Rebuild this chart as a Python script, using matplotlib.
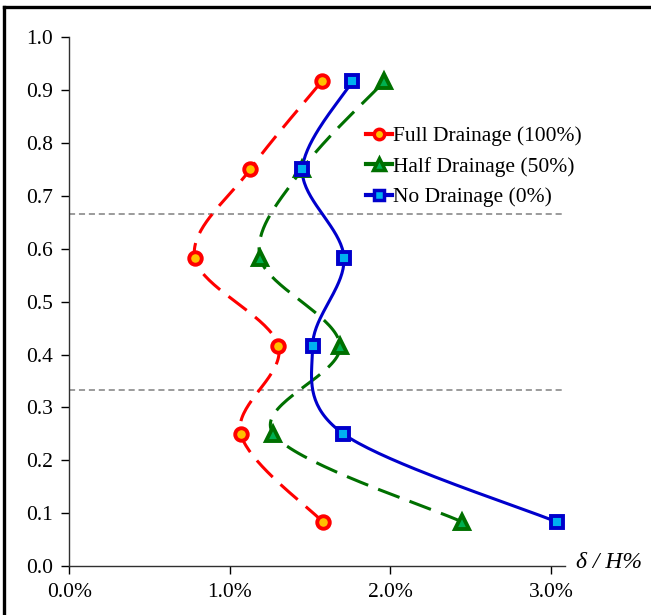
#Settlement profile chart for the three drainage cases

import numpy as np
import matplotlib
matplotlib.use("Agg")
import matplotlib.pyplot as plt
from matplotlib.lines import Line2D

#data (x in %, y = depth ratio)
depth = [0.0833, 0.25, 0.4167, 0.5833, 0.75, 0.9167]
full_drainage = [1.579, 1.068, 1.302, 0.781, 1.126, 1.573]
half_drainage = [2.447, 1.271, 1.687, 1.188, 1.450, 1.963]
no_drainage = [3.037, 1.707, 1.516, 1.711, 1.452, 1.763]
x_ticks = [0.0, 1.0, 2.0, 3.0]
y_ticks = [0.0, 0.1, 0.2, 0.3, 0.4, 0.5, 0.6, 0.7, 0.8, 0.9, 1.0]
guide_lines = [1 / 3, 2 / 3]


#smooth line like the spreadsheet one (bezier through every point)
def smooth(xs, ys, n=40):
    p = np.column_stack([xs, ys]).astype(float)
    p = np.vstack([p[0], p, p[-1]])
    out = []
    t = np.linspace(0, 1, n)[:, None]
    for i in range(1, len(p) - 2):
        p0, p3 = p[i], p[i + 1]
        c1 = p0 + (p[i + 1] - p[i - 1]) / 6
        c2 = p3 - (p[i + 2] - p[i]) / 6
        seg = ((1 - t) ** 3) * p0 + 3 * ((1 - t) ** 2) * t * c1 + 3 * (1 - t) * t ** 2 * c2 + t ** 3 * p3
        out.append(seg)
    seg = np.vstack(out)
    return seg[:, 0], seg[:, 1]


plt.rcParams['font.family'] = ['Liberation Serif', 'DejaVu Serif']

fig = plt.figure(figsize=(6.51, 6.15), dpi=100)
ax = fig.add_axes([69.3 / 651, 49 / 615, 496 / 651, 528.7 / 615])

series = [
    ("Full Drainage (100%)", full_drainage, "#FF0000", "#FFC000", "o", (7.5, 3.5), 9),
    ("Half Drainage (50%)", half_drainage, "#007000", "#00B050", "^", (7.5, 3.5), 9.5),
    ("No Drainage (0%)", no_drainage, "#0000CC", "#00B0F0", "s", None, 9),
]

for y in guide_lines:
    ax.axhline(y, color="#808080", lw=1.1, ls=(0, (4, 2.5)), zorder=1)

handles = []
for label, xs, edge, face, mk, dash, ms in series:
    sx, sy = smooth(xs, depth)
    line, = ax.plot(sx, sy, color=edge, lw=2.2, zorder=2)
    if dash is not None:
        line.set_dashes(dash)
    ax.plot(xs, depth, ls="none", marker=mk, ms=ms, mfc=face, mec=edge, mew=2.8, zorder=3)
    h = Line2D([0], [0], color=edge, lw=3, marker=mk, ms=ms - 1.5, mfc=face, mec=edge, mew=2.5)
    handles.append((h, label))

ax.set_xlim(0, 3.09)
ax.set_ylim(0, 1.0)
ax.set_xticks(x_ticks)
ax.set_xticklabels([f"{v:.1f}%" for v in x_ticks])
ax.set_yticks(y_ticks)
ax.set_yticklabels([f"{v:.1f}" for v in y_ticks])
ax.tick_params(direction="out", length=6, width=1, labelsize=15.5, pad=6)
ax.spines["top"].set_visible(False)
ax.spines["right"].set_visible(False)
for s in ["left", "bottom"]:
    ax.spines[s].set_linewidth(1)
    ax.spines[s].set_color("#303030")

ax.text(1.022, -0.004, "δ / H%", transform=ax.transAxes, fontsize=17,
        style="italic", ha="left", va="baseline")

ax.legend([h for h, l in handles], [l for h, l in handles], loc="upper left",
          bbox_to_anchor=(0.581, 0.848), frameon=False, fontsize=15.5,
          handlelength=1.2, handletextpad=0.05, labelspacing=0.48, borderaxespad=0)

#black frame on top and left like the cropped original
fig.add_artist(Line2D([4 / 651, 4 / 651], [0, 1 - 7 / 615], color="black", lw=2.4))
fig.add_artist(Line2D([4 / 651, 1], [1 - 7 / 615, 1 - 7 / 615], color="black", lw=2.4))

fig.savefig("out.png", dpi=100)
